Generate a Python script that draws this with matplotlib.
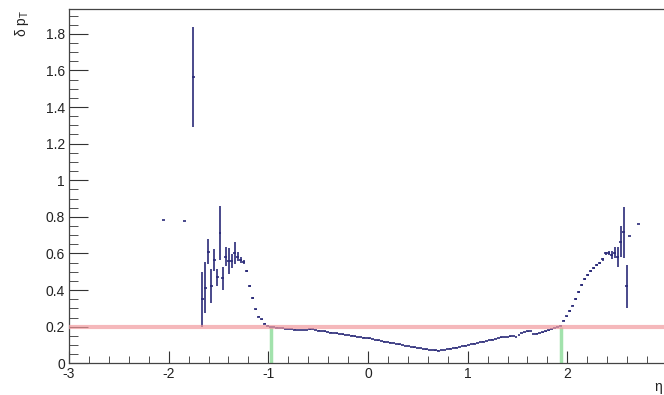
import matplotlib
matplotlib.use("Agg")
import matplotlib.pyplot as plt
from matplotlib.ticker import MultipleLocator
import numpy

plt.rcParams['font.family'] = ['Liberation Sans', 'DejaVu Sans']
plt.rcParams['mathtext.fontset'] = 'custom'
plt.rcParams['mathtext.rm'] = 'Liberation Sans'
plt.rcParams['mathtext.it'] = 'Liberation Sans'
plt.rcParams['axes.unicode_minus'] = False

# histogram binning (eta)
nbins, eta_min, eta_max = 200, -3.0, 3.0

# filled bins and their delta pT values / errors
filled_bins = [31, 38, 41] + list(range(44, 188)) + [190]

dpt = [
    0.783, 0.776, 1.563,
    # bins 44 - 66
    0.351, 0.413, 0.610, 0.422, 0.564, 0.470, 0.710, 0.464, 0.583, 0.559,
    0.559, 0.601, 0.583, 0.564, 0.552, 0.504, 0.422, 0.355, 0.295, 0.255,
    0.240, 0.215, 0.205,
    # bins 67 - 163
    0.200, 0.197, 0.195, 0.193, 0.191, 0.189, 0.188, 0.186, 0.184, 0.182,
    0.182, 0.181, 0.182, 0.185, 0.186, 0.182, 0.179, 0.176, 0.174, 0.171,
    0.168, 0.166, 0.163, 0.160, 0.158, 0.156, 0.153, 0.151, 0.147, 0.144,
    0.142, 0.140, 0.138, 0.136, 0.132, 0.128, 0.125, 0.122, 0.119, 0.116,
    0.113, 0.110, 0.106, 0.103, 0.099, 0.096, 0.093, 0.090, 0.087, 0.084,
    0.082, 0.079, 0.076, 0.073, 0.071, 0.070, 0.069, 0.071, 0.074, 0.077,
    0.080, 0.083, 0.086, 0.090, 0.093, 0.097, 0.100, 0.104, 0.108, 0.112,
    0.115, 0.119, 0.122, 0.126, 0.130, 0.134, 0.138, 0.141, 0.143, 0.145,
    0.147, 0.149, 0.143, 0.156, 0.166, 0.171, 0.174, 0.178, 0.160, 0.162,
    0.165, 0.169, 0.174, 0.180, 0.186, 0.192, 0.199,
    # bins 164 - 187
    0.205, 0.233, 0.257, 0.286, 0.315, 0.351, 0.388, 0.426, 0.459, 0.483,
    0.506, 0.519, 0.535, 0.550, 0.568, 0.601, 0.604, 0.592, 0.604, 0.583,
    0.665, 0.716, 0.420, 0.694,
    0.760,
]

dpt_err = [
    0.0, 0.0, 0.273,
    # bins 44 - 66
    0.150, 0.140, 0.070, 0.095, 0.060, 0.045, 0.147, 0.062, 0.053, 0.072,
    0.040, 0.061, 0.025, 0.015, 0.010, 0.006, 0.006, 0.005, 0.004, 0.004,
    0.003, 0.003, 0.002,
] + [0.001] * 97 + [
    # bins 164 - 187
    0.002, 0.003, 0.003, 0.004, 0.004, 0.005, 0.005, 0.006, 0.006, 0.006,
    0.006, 0.006, 0.006, 0.006, 0.007, 0.008, 0.010, 0.020, 0.030, 0.055,
    0.085, 0.140, 0.117, 0.0,
    0.0,
]

threshold = 0.2
cut_eta = [-0.97, 1.94]
x_ticklabels = {-3: '-3', -2: '-2', -1: '-1', 0: '0', 1: '1', 2: '2'}

bin_width = (eta_max - eta_min) / nbins
eta = eta_min + (numpy.array(filled_bins) + 0.5) * bin_width

fig = plt.figure(figsize=(6.64, 3.95), dpi=100)
ax = fig.add_axes([69 / 664, 31.7 / 395, 598 / 664, 354 / 395])

ax.errorbar(eta, dpt, xerr=bin_width / 2, yerr=dpt_err, fmt='none',
            ecolor='#2a2a78', elinewidth=1.2, capsize=0, zorder=3)

ax.axhline(threshold, color='#f29a9e', lw=3, alpha=0.7, zorder=4)
ax.vlines(cut_eta, 0, threshold, color='#a2e2ac', lw=2.5, zorder=2)

ax.set_xlim(eta_min, eta_max)
ax.set_ylim(0, 1.934)

ax.set_xticks(list(x_ticklabels.keys()))
ax.set_xticklabels(list(x_ticklabels.values()))
ax.xaxis.set_minor_locator(MultipleLocator(0.2))
ax.yaxis.set_major_locator(MultipleLocator(0.2))
ax.yaxis.set_minor_locator(MultipleLocator(0.05))
ax.yaxis.set_major_formatter(plt.FuncFormatter(lambda v, p: "%g" % round(v, 2)))

ax.tick_params(axis='both', which='both', direction='in', top=False, right=False,
               color='#333333', labelsize=10, labelcolor='#222222')
ax.tick_params(axis='y', which='major', length=13.5, pad=3)
ax.tick_params(axis='y', which='minor', length=6.5)
ax.tick_params(axis='x', which='major', length=9, pad=3)
ax.tick_params(axis='x', which='minor', length=5)

for s in ax.spines.values():
    s.set_color('#444444')
    s.set_linewidth(0.9)

fig.text(22 / 664, 1 - 10 / 395, r'δ p$_{\mathrm{T}}$', rotation=90,
         ha='center', va='top', fontsize=10, color='#222222')
fig.text(662 / 664, 1 - 387 / 395, 'η', ha='right', va='center',
         fontsize=10, color='#222222')

fig.savefig('out.png', dpi=100)
